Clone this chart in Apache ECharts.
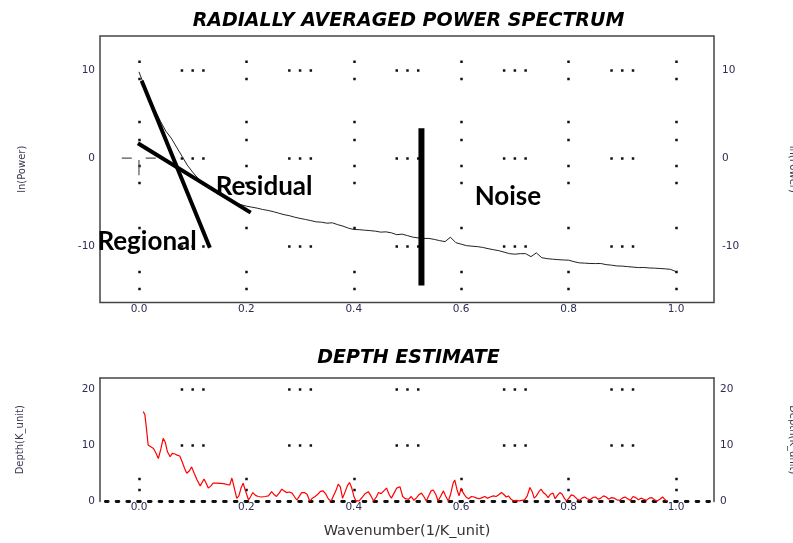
<!DOCTYPE html>
<html><head><meta charset="utf-8">
<script src="https://cdn.jsdelivr.net/npm/echarts@6/dist/echarts.min.js"></script>
<style>html,body{margin:0;padding:0;background:#fff}#c{width:793px;height:543px}</style>
</head><body><div id="c"></div>
<script>
// ---------- DATA ----------
const powerX = [0.00,0.01,0.02,0.03,0.04,0.05,0.06,0.07,0.08,0.09,
  0.10,0.11,0.12,0.13,0.14,0.15,0.16,0.17,0.18,0.19,
  0.20,0.21,0.22,0.23,0.24,0.25,0.26,0.27,0.28,0.29,
  0.30,0.31,0.32,0.33,0.34,0.35,0.36,0.37,0.38,0.39,
  0.40,0.41,0.42,0.43,0.44,0.45,0.46,0.47,0.48,0.49,
  0.50,0.51,0.52,0.53,0.54,0.55,0.56,0.57,0.58,0.59,
  0.60,0.61,0.62,0.63,0.64,0.65,0.66,0.67,0.68,0.69,
  0.70,0.71,0.72,0.73,0.74,0.75,0.76,0.77,0.78,0.79,
  0.80,0.81,0.82,0.83,0.84,0.85,0.86,0.87,0.88,0.89,
  0.90,0.91,0.92,0.93,0.94,0.95,0.96,0.97,0.98,0.99,1.00];
const powerY = [9.82,8.2,6.7,5.46,4.2,3.07,2.28,1.25,0.23,-0.8,
  -1.6,-2.3,-2.9,-3.4,-3.8,-4.2,-4.55,-4.9,-5.12,-5.3,
  -5.46,-5.58,-5.69,-5.84,-5.95,-6.09,-6.26,-6.43,-6.55,-6.72,
  -6.86,-6.98,-7.11,-7.25,-7.29,-7.4,-7.36,-7.57,-7.74,-7.97,
  -8.12,-8.14,-8.2,-8.25,-8.31,-8.42,-8.39,-8.5,-8.71,-8.65,
  -8.82,-8.99,-9.08,-9.14,-9.14,-9.25,-9.39,-9.5,-9.0,-9.62,
  -9.79,-9.96,-10.02,-10.07,-10.16,-10.3,-10.42,-10.53,-10.7,-10.87,
  -10.93,-10.87,-10.87,-11.21,-10.78,-11.33,-11.44,-11.5,-11.55,-11.59,
  -11.61,-11.78,-11.92,-11.95,-11.99,-12.0,-11.99,-12.12,-12.18,-12.27,
  -12.29,-12.35,-12.4,-12.46,-12.44,-12.5,-12.52,-12.56,-12.6,-12.66,-12.92];

const depthX = [0.008,0.011,0.014,0.017,0.022,0.027,0.032,0.036,0.041,0.045,0.049,0.053,0.058,0.062,0.067,0.071,0.076,0.080,0.085,0.089,
  0.094,0.098,0.103,0.108,0.114,0.118,0.121,0.125,0.129,0.134,0.138,0.144,0.151,0.158,0.165,0.169,0.173,0.177,0.182,0.186,
  0.190,0.194,0.198,0.204,0.208,0.212,0.217,0.222,0.228,0.235,0.241,0.247,0.252,0.256,0.261,0.266,0.270,0.275,0.280,0.285,
  0.290,0.294,0.299,0.303,0.308,0.313,0.318,0.323,0.328,0.333,0.338,0.343,0.348,0.353,0.358,0.362,0.367,0.371,0.375,0.379,
  0.383,0.388,0.392,0.396,0.400,0.404,0.410,0.416,0.421,0.427,0.432,0.437,0.442,0.446,0.451,0.456,0.461,0.466,0.470,0.475,
  0.480,0.486,0.491,0.496,0.502,0.507,0.512,0.517,0.521,0.526,0.531,0.535,0.540,0.544,0.548,0.553,0.557,0.562,0.567,0.571,
  0.576,0.580,0.585,0.588,0.592,0.596,0.600,0.604,0.609,0.614,0.619,0.624,0.629,0.634,0.639,0.644,0.649,0.654,0.660,0.665,
  0.670,0.675,0.679,0.684,0.688,0.693,0.698,0.703,0.708,0.713,0.718,0.723,0.728,0.732,0.736,0.740,0.745,0.749,0.753,0.758,
  0.762,0.766,0.771,0.775,0.780,0.784,0.788,0.792,0.796,0.800,0.805,0.810,0.815,0.820,0.825,0.830,0.835,0.840,0.845,0.850,
  0.855,0.860,0.865,0.870,0.875,0.880,0.885,0.890,0.895,0.900,0.905,0.910,0.915,0.920,0.925,0.930,0.935,0.940,0.945,0.950,
  0.955,0.960,0.965,0.970,0.975,0.980,0.983];
const depthY = [16.1,15.5,13.0,10.1,9.8,9.5,8.6,7.7,9.5,11.3,10.6,8.9,8.0,8.6,8.5,8.3,8.15,7.2,5.9,5.05,
  5.5,6.2,5.0,3.9,2.8,3.5,4.0,3.3,2.4,2.8,3.3,3.3,3.26,3.2,3.0,2.96,4.2,2.6,0.57,1.0,
  2.4,3.26,2.0,0.27,0.9,1.6,1.1,0.9,0.8,0.9,1.0,1.76,1.2,0.9,1.5,2.2,1.9,1.6,1.7,1.5,
  0.8,0.27,1.0,1.6,1.6,1.3,0.1,0.6,0.9,1.3,1.8,1.9,1.3,0.4,0.1,1.0,2.0,3.1,2.6,0.6,
  1.5,2.8,3.4,2.5,1.0,0.1,0.1,0.8,1.4,1.76,1.0,0.1,0.8,1.6,1.4,1.9,2.4,1.2,0.6,1.5,
  2.4,2.65,0.9,0.5,0.4,0.9,0.2,0.7,1.2,1.5,0.8,0.1,1.1,1.9,2.06,1.2,0.1,1.0,1.9,1.0,
  0.1,1.2,3.3,3.85,2.2,1.0,2.4,1.5,0.8,0.5,0.9,0.8,0.6,0.5,0.7,0.9,0.6,0.8,1.0,0.9,
  1.2,1.6,1.3,0.8,1.0,0.4,0.1,0.2,0.1,0.2,0.3,1.0,2.5,1.8,0.6,1.0,1.8,2.2,1.6,1.2,
  0.7,1.3,1.5,0.5,1.2,1.6,1.3,0.6,0.1,0.5,1.2,1.0,0.5,0.2,0.6,0.8,0.5,0.3,0.7,0.8,
  0.4,0.6,1.0,0.8,0.4,0.7,0.6,0.3,0.2,0.6,0.8,0.5,0.2,0.9,0.7,0.3,0.6,0.4,0.2,0.6,
  0.7,0.3,0.1,0.4,0.8,0.3,0.1];

// annotation lines drawn on the spectrum (wavenumber, ln(Power))
const regionalFit = [[0.005, 8.8], [0.132, -10.2]];
const residualFit = [[-0.002, 1.7], [0.208, -6.2]];
const noiseCut = [[0.526, 3.4], [0.526, -14.5]];
const originCrossH = [[-0.032, 0], [0.034, 0]];
const originCrossV = [[0, -0.2], [0, -1.95]];
const labelNames = ['Regional', 'Residual', 'Noise'];
const labelX = [0.015, 0.233, 0.687];
const labelY = [-9.45, -3.24, -4.33];

const titleTop = 'RADIALLY AVERAGED POWER SPECTRUM';
const titleBottom = 'DEPTH ESTIMATE';

// ---------- LAYOUT / STYLE ----------
const X_MIN = -0.0726, X_MAX = 1.0708;
const P_MIN = -16.43, P_MAX = 13.9;
const D_MIN = 0, D_MAX = 22.1;
const GL = 100, GR = 79, GW = 793 - GL - GR;
const pxX = GW / (X_MAX - X_MIN);

function dotsDash(centers, d, period) {
  const arr = [];
  const n = centers.length;
  for (let i = 0; i < n; i++) {
    arr.push(d);
    arr.push(i < n - 1 ? centers[i + 1] - centers[i] - d : period - (centers[n - 1] - centers[0]) - d);
  }
  return { type: arr, dashOffset: period - (centers[0] - d / 2) };
}
const hDash = dotsDash([(0.08 - X_MIN) * pxX, (0.10 - X_MIN) * pxX, (0.12 - X_MIN) * pxX], 2.5, 0.2 * pxX);
const vDashTop = dotsDash([25.7, 43, 86, 104, 130, 147, 192, 236, 253], 2.5, 400);
const vDashBot = dotsDash([101, 112], 2.5, 400);
const baseDash = dotsDash([(-0.06 - X_MIN) * pxX], 2.8, 0.02 * pxX);

const lbl = { color: '#2d2d55', fontFamily: 'DejaVu Sans', fontSize: 10.5 };
const nameStyle = { color: '#3a3a55', fontFamily: 'DejaVu Sans', fontSize: 10 };
const fmtX = v => (Math.abs(v * 5 - Math.round(v * 5)) < 1e-6 ? v.toFixed(1) : '');
const fmtY = v => (Math.abs(v / 10 - Math.round(v / 10)) < 1e-6 ? String(Math.round(v)) : '');
const solid = { show: true, onZero: false, lineStyle: { color: '#444', width: 1.5 } };
const dotLine = (p, w) => ({ color: '#111', width: w, type: p.type, dashOffset: p.dashOffset });

const zip = (a, b) => a.map((v, i) => [v, b[i]]);

const chart = echarts.init(document.getElementById('c'));
chart.setOption({
  animation: false,
  backgroundColor: '#fff',
  graphic: [
    { type: 'text', x: 408.5, y: 21, style: { text: titleTop, fontFamily: 'DejaVu Sans', fontWeight: 'bold', fontStyle: 'italic', fontSize: 19, fill: '#000', align: 'center', verticalAlign: 'middle' } },
    { type: 'text', x: 408.5, y: 358, style: { text: titleBottom, fontFamily: 'DejaVu Sans', fontWeight: 'bold', fontStyle: 'italic', fontSize: 19, fill: '#000', align: 'center', verticalAlign: 'middle' } }
  ],
  grid: [
    { left: GL, right: GR, top: 36, height: 266.5, show: true, borderColor: '#444', borderWidth: 1.5, backgroundColor: 'transparent', containLabel: false, outerBoundsMode: 'none' },
    { left: GL, right: GR, top: 378, height: 123.5, show: false, containLabel: false, outerBoundsMode: 'none' }
  ],
  xAxis: [
    { gridIndex: 0, type: 'value', min: X_MIN, max: X_MAX, splitNumber: 5,
      axisLine: { show: false, onZero: false }, axisTick: { show: false },
      axisLabel: Object.assign({ margin: 1, formatter: fmtX }, lbl),
      splitLine: { show: true, showMinLine: false, showMaxLine: false, lineStyle: dotLine(vDashTop, 2.5) } },
    { gridIndex: 1, type: 'value', min: X_MIN, max: X_MAX, splitNumber: 5,
      axisLine: { show: true, onZero: false, lineStyle: dotLine(baseDash, 2.8) }, axisTick: { show: false },
      axisLabel: Object.assign({ margin: 0, formatter: fmtX }, lbl),
      splitLine: { show: true, showMinLine: false, showMaxLine: false, lineStyle: dotLine(vDashBot, 2.5) },
      name: 'Wavenumber(1/K_unit)', nameLocation: 'middle', nameGap: 22,
      nameTextStyle: { color: '#333', fontFamily: 'DejaVu Sans', fontSize: 14.5 } },
    { gridIndex: 1, type: 'value', position: 'top', min: X_MIN, max: X_MAX,
      axisLine: solid, axisTick: { show: false }, axisLabel: { show: false }, splitLine: { show: false } }
  ],
  yAxis: [
    { gridIndex: 0, type: 'value', position: 'left', min: P_MIN, max: P_MAX, splitNumber: 3,
      axisLine: { show: false, onZero: false }, axisTick: { show: false },
      axisLabel: Object.assign({ margin: 5, formatter: fmtY }, lbl),
      splitLine: { show: true, showMinLine: false, showMaxLine: false, lineStyle: dotLine(hDash, 2.5) },
      name: 'ln(Power)', nameLocation: 'middle', nameGap: 73, nameTextStyle: nameStyle },
    { gridIndex: 0, type: 'value', position: 'right', min: P_MIN, max: P_MAX, splitNumber: 3,
      axisLine: { show: false, onZero: false }, axisTick: { show: false },
      axisLabel: Object.assign({ margin: 8, formatter: fmtY }, lbl),
      splitLine: { show: false },
      name: 'ln(Power)', nameLocation: 'middle', nameGap: 74, nameRotate: -90, nameTextStyle: nameStyle },
    { gridIndex: 1, type: 'value', position: 'left', min: D_MIN, max: D_MAX, splitNumber: 2,
      axisLine: solid, axisTick: { show: false },
      axisLabel: Object.assign({ margin: 5, formatter: fmtY }, lbl),
      splitLine: { show: true, showMinLine: false, showMaxLine: false, lineStyle: dotLine(hDash, 2.5) },
      name: 'Depth(K_unit)', nameLocation: 'middle', nameGap: 75, nameTextStyle: nameStyle },
    { gridIndex: 1, type: 'value', position: 'right', min: D_MIN, max: D_MAX, splitNumber: 2,
      axisLine: solid, axisTick: { show: false },
      axisLabel: Object.assign({ margin: 6, formatter: fmtY }, lbl),
      splitLine: { show: false },
      name: 'Depth(K_unit)', nameLocation: 'middle', nameGap: 74, nameRotate: -90, nameTextStyle: nameStyle }
  ],
  series: [
    { type: 'line', xAxisIndex: 0, yAxisIndex: 0, data: zip(powerX, powerY), symbol: 'none',
      lineStyle: { color: '#222', width: 1 }, z: 3 },
    { type: 'line', xAxisIndex: 0, yAxisIndex: 0, data: originCrossH, symbol: 'none',
      lineStyle: { color: '#555', width: 1.2, type: [10, 14] }, z: 2 },
    { type: 'line', xAxisIndex: 0, yAxisIndex: 0, data: originCrossV, symbol: 'none',
      lineStyle: { color: '#555', width: 1.2 }, z: 2 },
    { type: 'line', xAxisIndex: 0, yAxisIndex: 0, data: regionalFit, symbol: 'none',
      lineStyle: { color: '#000', width: 4 }, z: 4 },
    { type: 'line', xAxisIndex: 0, yAxisIndex: 0, data: residualFit, symbol: 'none',
      lineStyle: { color: '#000', width: 4 }, z: 4 },
    { type: 'line', xAxisIndex: 0, yAxisIndex: 0, data: noiseCut, symbol: 'none',
      lineStyle: { color: '#000', width: 6 }, z: 4 },
    { type: 'scatter', xAxisIndex: 0, yAxisIndex: 0, symbolSize: 0, itemStyle: { color: '#000', opacity: 1 }, z: 6,
      data: labelNames.map((n, i) => ({ name: n, value: [labelX[i], labelY[i]] })),
      label: { show: true, position: 'inside', formatter: '{b}', color: '#000', opacity: 1,
               textBorderWidth: 0, fontFamily: 'Lato', fontWeight: 'bold', fontSize: 26 } },
    { type: 'line', xAxisIndex: 1, yAxisIndex: 2, data: zip(depthX, depthY), symbol: 'none',
      lineStyle: { color: '#ff0000', width: 1.2 }, z: 3 }
  ]
});
</script>
</body></html>
